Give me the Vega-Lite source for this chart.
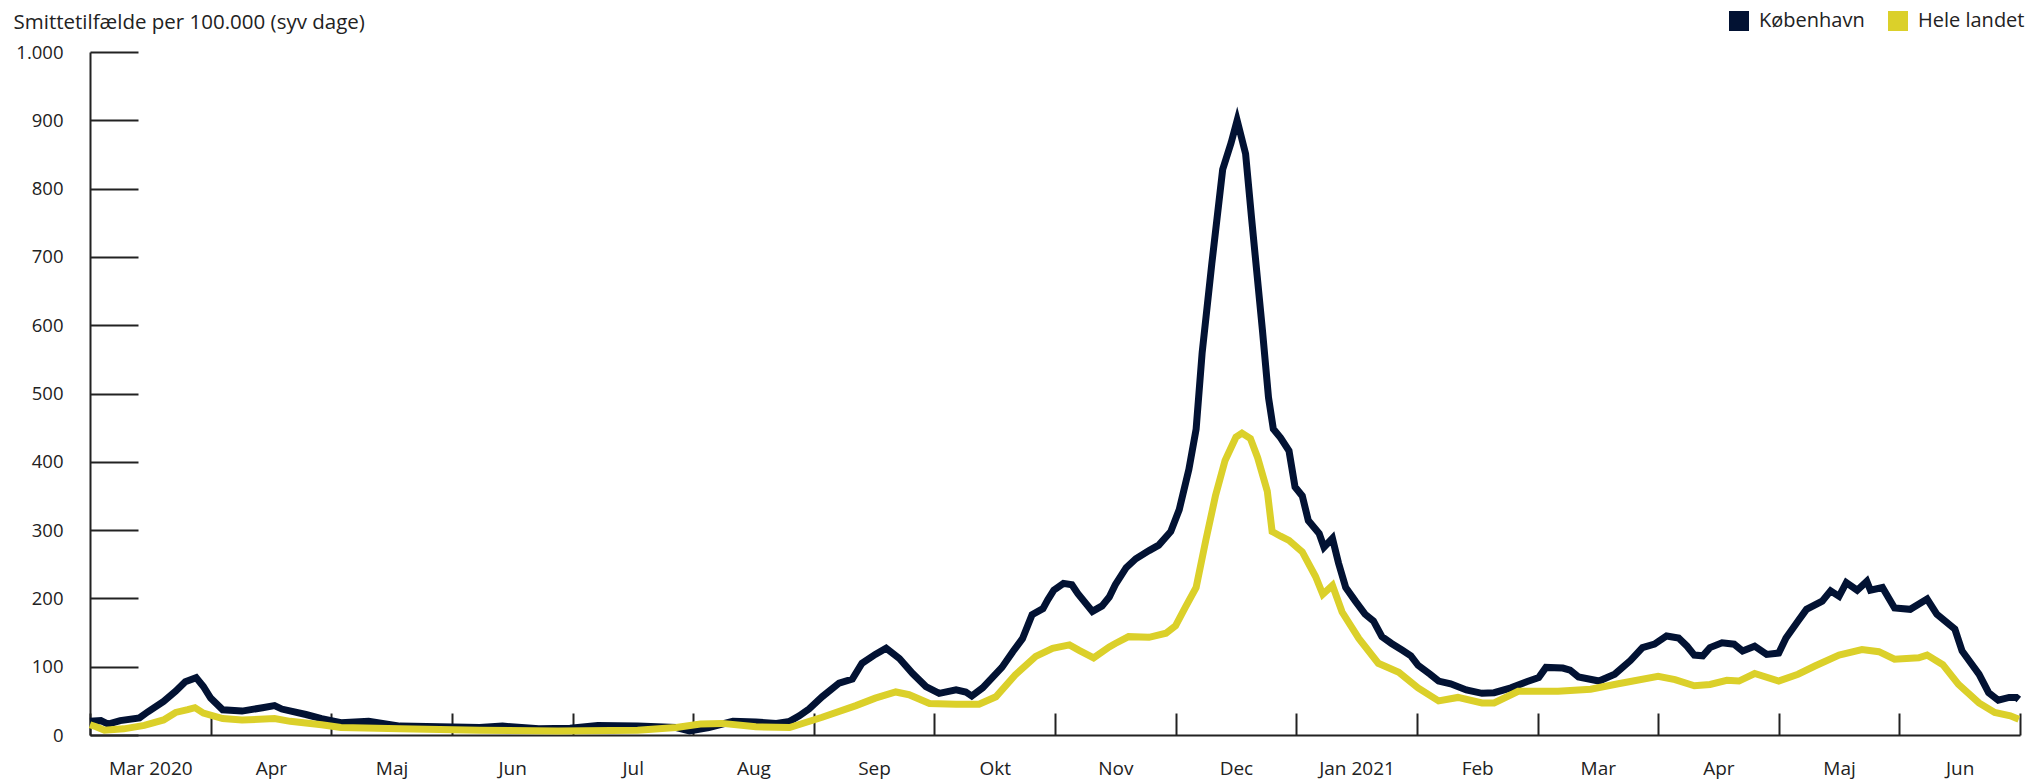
{
  "$schema": "https://vega.github.io/schema/vega-lite/v6.json",
  "autosize": {"type": "none"},
  "width": 1930,
  "height": 683,
  "padding": {"left": 90, "top": 52, "right": 7, "bottom": 47},
  "background": "white",
  "config": {
    "font": "Open Sans",
    "view": {"stroke": null}
  },
  "data": {
    "values": [
      {"s": "København", "m": 0.00, "v": 20}, {"s": "København", "m": 0.09, "v": 21}, {"s": "København", "m": 0.15, "v": 16}, {"s": "København", "m": 0.25, "v": 21},
      {"s": "København", "m": 0.41, "v": 25}, {"s": "København", "m": 0.48, "v": 34}, {"s": "København", "m": 0.61, "v": 49}, {"s": "København", "m": 0.71, "v": 64},
      {"s": "København", "m": 0.79, "v": 78}, {"s": "København", "m": 0.88, "v": 84}, {"s": "København", "m": 0.94, "v": 71}, {"s": "København", "m": 1.00, "v": 54},
      {"s": "København", "m": 1.10, "v": 37}, {"s": "København", "m": 1.26, "v": 35}, {"s": "København", "m": 1.43, "v": 40}, {"s": "København", "m": 1.53, "v": 43},
      {"s": "København", "m": 1.59, "v": 38}, {"s": "København", "m": 1.79, "v": 30}, {"s": "København", "m": 1.92, "v": 24}, {"s": "København", "m": 2.08, "v": 18},
      {"s": "København", "m": 2.31, "v": 20}, {"s": "København", "m": 2.57, "v": 13}, {"s": "København", "m": 2.90, "v": 12}, {"s": "København", "m": 3.23, "v": 11},
      {"s": "København", "m": 3.42, "v": 13}, {"s": "København", "m": 3.72, "v": 9}, {"s": "København", "m": 3.98, "v": 10}, {"s": "København", "m": 4.21, "v": 14},
      {"s": "København", "m": 4.54, "v": 13}, {"s": "København", "m": 4.86, "v": 11}, {"s": "København", "m": 4.97, "v": 6}, {"s": "København", "m": 5.13, "v": 11},
      {"s": "København", "m": 5.33, "v": 20}, {"s": "København", "m": 5.52, "v": 19}, {"s": "København", "m": 5.69, "v": 17}, {"s": "København", "m": 5.80, "v": 20},
      {"s": "København", "m": 5.88, "v": 28}, {"s": "København", "m": 5.96, "v": 38}, {"s": "København", "m": 6.07, "v": 56}, {"s": "København", "m": 6.21, "v": 76},
      {"s": "København", "m": 6.32, "v": 82}, {"s": "København", "m": 6.40, "v": 105}, {"s": "København", "m": 6.51, "v": 118}, {"s": "København", "m": 6.60, "v": 127},
      {"s": "København", "m": 6.71, "v": 112}, {"s": "København", "m": 6.82, "v": 90}, {"s": "København", "m": 6.93, "v": 71}, {"s": "København", "m": 7.04, "v": 61},
      {"s": "København", "m": 7.18, "v": 66}, {"s": "København", "m": 7.26, "v": 63}, {"s": "København", "m": 7.31, "v": 57}, {"s": "København", "m": 7.40, "v": 69},
      {"s": "København", "m": 7.56, "v": 99}, {"s": "København", "m": 7.65, "v": 122}, {"s": "København", "m": 7.73, "v": 141}, {"s": "København", "m": 7.81, "v": 176},
      {"s": "København", "m": 7.90, "v": 185}, {"s": "København", "m": 7.94, "v": 198}, {"s": "København", "m": 7.99, "v": 212}, {"s": "København", "m": 8.07, "v": 222},
      {"s": "København", "m": 8.14, "v": 220}, {"s": "København", "m": 8.19, "v": 207}, {"s": "København", "m": 8.31, "v": 181}, {"s": "København", "m": 8.39, "v": 189},
      {"s": "København", "m": 8.45, "v": 202}, {"s": "København", "m": 8.50, "v": 220}, {"s": "København", "m": 8.59, "v": 245}, {"s": "København", "m": 8.67, "v": 258},
      {"s": "København", "m": 8.78, "v": 270}, {"s": "København", "m": 8.86, "v": 278}, {"s": "København", "m": 8.96, "v": 298}, {"s": "København", "m": 9.03, "v": 330},
      {"s": "København", "m": 9.11, "v": 389}, {"s": "København", "m": 9.17, "v": 448}, {"s": "København", "m": 9.22, "v": 560}, {"s": "København", "m": 9.30, "v": 690},
      {"s": "København", "m": 9.39, "v": 828}, {"s": "København", "m": 9.46, "v": 867}, {"s": "København", "m": 9.51, "v": 900}, {"s": "København", "m": 9.58, "v": 851},
      {"s": "København", "m": 9.63, "v": 756}, {"s": "København", "m": 9.72, "v": 592}, {"s": "København", "m": 9.77, "v": 494}, {"s": "København", "m": 9.81, "v": 448},
      {"s": "København", "m": 9.87, "v": 435}, {"s": "København", "m": 9.94, "v": 416}, {"s": "København", "m": 9.99, "v": 363}, {"s": "København", "m": 10.05, "v": 350},
      {"s": "København", "m": 10.10, "v": 314}, {"s": "København", "m": 10.19, "v": 295}, {"s": "København", "m": 10.23, "v": 275}, {"s": "København", "m": 10.30, "v": 288},
      {"s": "København", "m": 10.35, "v": 252}, {"s": "København", "m": 10.41, "v": 216}, {"s": "København", "m": 10.49, "v": 196}, {"s": "København", "m": 10.57, "v": 177},
      {"s": "København", "m": 10.64, "v": 167}, {"s": "København", "m": 10.71, "v": 144}, {"s": "København", "m": 10.79, "v": 134}, {"s": "København", "m": 10.88, "v": 124},
      {"s": "København", "m": 10.95, "v": 116}, {"s": "København", "m": 11.01, "v": 102}, {"s": "København", "m": 11.11, "v": 89}, {"s": "København", "m": 11.18, "v": 79},
      {"s": "København", "m": 11.28, "v": 75}, {"s": "København", "m": 11.41, "v": 66}, {"s": "København", "m": 11.54, "v": 61}, {"s": "København", "m": 11.64, "v": 62},
      {"s": "København", "m": 11.78, "v": 69}, {"s": "København", "m": 11.91, "v": 78}, {"s": "København", "m": 12.01, "v": 84}, {"s": "København", "m": 12.07, "v": 99},
      {"s": "København", "m": 12.21, "v": 98}, {"s": "København", "m": 12.27, "v": 95}, {"s": "København", "m": 12.34, "v": 85}, {"s": "København", "m": 12.51, "v": 79},
      {"s": "København", "m": 12.64, "v": 89}, {"s": "København", "m": 12.77, "v": 109}, {"s": "København", "m": 12.87, "v": 128}, {"s": "København", "m": 12.97, "v": 133},
      {"s": "København", "m": 13.07, "v": 145}, {"s": "København", "m": 13.17, "v": 142}, {"s": "København", "m": 13.24, "v": 130}, {"s": "København", "m": 13.30, "v": 117},
      {"s": "København", "m": 13.37, "v": 116}, {"s": "København", "m": 13.43, "v": 128}, {"s": "København", "m": 13.53, "v": 135}, {"s": "København", "m": 13.63, "v": 133},
      {"s": "København", "m": 13.70, "v": 123}, {"s": "København", "m": 13.80, "v": 130}, {"s": "København", "m": 13.90, "v": 118}, {"s": "København", "m": 14.00, "v": 120},
      {"s": "København", "m": 14.06, "v": 142}, {"s": "København", "m": 14.16, "v": 167}, {"s": "København", "m": 14.23, "v": 184}, {"s": "København", "m": 14.36, "v": 196},
      {"s": "København", "m": 14.43, "v": 211}, {"s": "København", "m": 14.50, "v": 203}, {"s": "København", "m": 14.56, "v": 223}, {"s": "København", "m": 14.65, "v": 212},
      {"s": "København", "m": 14.73, "v": 225}, {"s": "København", "m": 14.76, "v": 212}, {"s": "København", "m": 14.86, "v": 216}, {"s": "København", "m": 14.96, "v": 186},
      {"s": "København", "m": 15.09, "v": 184}, {"s": "København", "m": 15.23, "v": 199}, {"s": "København", "m": 15.31, "v": 177}, {"s": "København", "m": 15.46, "v": 155},
      {"s": "København", "m": 15.52, "v": 123}, {"s": "København", "m": 15.66, "v": 89}, {"s": "København", "m": 15.74, "v": 62}, {"s": "København", "m": 15.82, "v": 51},
      {"s": "København", "m": 15.91, "v": 55}, {"s": "København", "m": 15.97, "v": 55}, {"s": "København", "m": 15.99, "v": 52},

      {"s": "Hele landet", "m": 0.00, "v": 15}, {"s": "Hele landet", "m": 0.05, "v": 12}, {"s": "Hele landet", "m": 0.12, "v": 7}, {"s": "Hele landet", "m": 0.28, "v": 9},
      {"s": "Hele landet", "m": 0.45, "v": 14}, {"s": "Hele landet", "m": 0.61, "v": 22}, {"s": "Hele landet", "m": 0.71, "v": 33}, {"s": "Hele landet", "m": 0.81, "v": 37},
      {"s": "Hele landet", "m": 0.87, "v": 40}, {"s": "Hele landet", "m": 0.94, "v": 32}, {"s": "Hele landet", "m": 1.10, "v": 24}, {"s": "Hele landet", "m": 1.26, "v": 22},
      {"s": "Hele landet", "m": 1.53, "v": 24}, {"s": "Hele landet", "m": 1.66, "v": 20}, {"s": "Hele landet", "m": 1.92, "v": 15}, {"s": "Hele landet", "m": 2.08, "v": 11},
      {"s": "Hele landet", "m": 2.57, "v": 9}, {"s": "Hele landet", "m": 3.23, "v": 7}, {"s": "Hele landet", "m": 3.88, "v": 6}, {"s": "Hele landet", "m": 4.54, "v": 7},
      {"s": "Hele landet", "m": 4.86, "v": 11}, {"s": "Hele landet", "m": 5.06, "v": 16}, {"s": "Hele landet", "m": 5.24, "v": 17}, {"s": "Hele landet", "m": 5.52, "v": 12},
      {"s": "Hele landet", "m": 5.80, "v": 11}, {"s": "Hele landet", "m": 6.07, "v": 26}, {"s": "Hele landet", "m": 6.35, "v": 43}, {"s": "Hele landet", "m": 6.51, "v": 54},
      {"s": "Hele landet", "m": 6.68, "v": 63}, {"s": "Hele landet", "m": 6.79, "v": 59}, {"s": "Hele landet", "m": 6.96, "v": 46}, {"s": "Hele landet", "m": 7.18, "v": 45},
      {"s": "Hele landet", "m": 7.37, "v": 45}, {"s": "Hele landet", "m": 7.51, "v": 56}, {"s": "Hele landet", "m": 7.67, "v": 88}, {"s": "Hele landet", "m": 7.84, "v": 115},
      {"s": "Hele landet", "m": 7.98, "v": 127}, {"s": "Hele landet", "m": 8.12, "v": 132}, {"s": "Hele landet", "m": 8.20, "v": 124}, {"s": "Hele landet", "m": 8.32, "v": 113},
      {"s": "Hele landet", "m": 8.45, "v": 129}, {"s": "Hele landet", "m": 8.50, "v": 134}, {"s": "Hele landet", "m": 8.61, "v": 144}, {"s": "Hele landet", "m": 8.78, "v": 143},
      {"s": "Hele landet", "m": 8.92, "v": 149}, {"s": "Hele landet", "m": 9.00, "v": 160}, {"s": "Hele landet", "m": 9.08, "v": 187}, {"s": "Hele landet", "m": 9.17, "v": 216},
      {"s": "Hele landet", "m": 9.25, "v": 285}, {"s": "Hele landet", "m": 9.33, "v": 350}, {"s": "Hele landet", "m": 9.41, "v": 402}, {"s": "Hele landet", "m": 9.50, "v": 436},
      {"s": "Hele landet", "m": 9.55, "v": 442}, {"s": "Hele landet", "m": 9.62, "v": 434}, {"s": "Hele landet", "m": 9.68, "v": 406}, {"s": "Hele landet", "m": 9.76, "v": 357},
      {"s": "Hele landet", "m": 9.80, "v": 298}, {"s": "Hele landet", "m": 9.87, "v": 291}, {"s": "Hele landet", "m": 9.94, "v": 285}, {"s": "Hele landet", "m": 10.05, "v": 268},
      {"s": "Hele landet", "m": 10.16, "v": 232}, {"s": "Hele landet", "m": 10.22, "v": 206}, {"s": "Hele landet", "m": 10.30, "v": 219}, {"s": "Hele landet", "m": 10.38, "v": 180},
      {"s": "Hele landet", "m": 10.52, "v": 141}, {"s": "Hele landet", "m": 10.68, "v": 105}, {"s": "Hele landet", "m": 10.85, "v": 92}, {"s": "Hele landet", "m": 11.01, "v": 69},
      {"s": "Hele landet", "m": 11.18, "v": 50}, {"s": "Hele landet", "m": 11.34, "v": 55}, {"s": "Hele landet", "m": 11.54, "v": 47}, {"s": "Hele landet", "m": 11.64, "v": 47},
      {"s": "Hele landet", "m": 11.84, "v": 64}, {"s": "Hele landet", "m": 12.17, "v": 64}, {"s": "Hele landet", "m": 12.44, "v": 67}, {"s": "Hele landet", "m": 12.67, "v": 75},
      {"s": "Hele landet", "m": 13.00, "v": 86}, {"s": "Hele landet", "m": 13.14, "v": 81}, {"s": "Hele landet", "m": 13.30, "v": 72}, {"s": "Hele landet", "m": 13.43, "v": 74},
      {"s": "Hele landet", "m": 13.57, "v": 80}, {"s": "Hele landet", "m": 13.67, "v": 79}, {"s": "Hele landet", "m": 13.80, "v": 90}, {"s": "Hele landet", "m": 14.00, "v": 79},
      {"s": "Hele landet", "m": 14.16, "v": 89}, {"s": "Hele landet", "m": 14.30, "v": 101}, {"s": "Hele landet", "m": 14.50, "v": 117}, {"s": "Hele landet", "m": 14.69, "v": 125},
      {"s": "Hele landet", "m": 14.83, "v": 122}, {"s": "Hele landet", "m": 14.96, "v": 111}, {"s": "Hele landet", "m": 15.16, "v": 113}, {"s": "Hele landet", "m": 15.23, "v": 117},
      {"s": "Hele landet", "m": 15.36, "v": 103}, {"s": "Hele landet", "m": 15.49, "v": 74}, {"s": "Hele landet", "m": 15.66, "v": 47}, {"s": "Hele landet", "m": 15.79, "v": 33},
      {"s": "Hele landet", "m": 15.92, "v": 28}, {"s": "Hele landet", "m": 15.99, "v": 23}
    ]
  },
  "mark": {"type": "line", "strokeWidth": 7, "strokeJoin": "miter", "clip": false},
  "encoding": {
    "x": {
      "field": "m",
      "type": "quantitative",
      "scale": {"domain": [0, 16], "nice": false, "zero": false},
      "axis": {
        "title": null,
        "values": [0, 1, 2, 3, 4, 5, 6, 7, 8, 9, 10, 11, 12, 13, 14, 15, 16],
        "labelExpr": "['Mar 2020','Apr','Maj','Jun','Jul','Aug','Sep','Okt','Nov','Dec','Jan 2021','Feb','Mar','Apr','Maj','Jun',''][datum.value]",
        "labelOffset": 60.3,
        "labelFontSize": 19,
        "labelColor": "#222222",
        "labelFont": "Open Sans",
        "labelBaseline": "top",
        "labelPadding": 46,
        "labelFlush": false,
        "labelOverlap": false,
        "tickSize": -22,
        "tickWidth": 2,
        "tickColor": "#222222",
        "domainWidth": 2,
        "domainColor": "#222222",
        "grid": false
      }
    },
    "y": {
      "field": "v",
      "type": "quantitative",
      "scale": {"domain": [0, 1000], "nice": false},
      "axis": {
        "title": "Smittetilfælde per 100.000 (syv dage)",
        "titleAngle": 0,
        "titleAlign": "left",
        "titleBaseline": "middle",
        "titleX": -77,
        "titleY": -30,
        "titleFontSize": 20.5,
        "titleFontWeight": "normal",
        "titleColor": "#222222",
        "titleFont": "Open Sans",
        "values": [0, 100, 200, 300, 400, 500, 600, 700, 800, 900, 1000],
        "labelExpr": "replace(datum.label, ',', '.')",
        "labelFontSize": 18.5,
        "labelColor": "#222222",
        "labelFont": "Open Sans",
        "labelPadding": 75,
        "tickSize": -48,
        "tickWidth": 2,
        "tickColor": "#222222",
        "domainWidth": 2,
        "domainColor": "#222222",
        "grid": false
      }
    },
    "color": {
      "field": "s",
      "type": "nominal",
      "sort": ["København", "Hele landet"],
      "scale": {"domain": ["København", "Hele landet"], "range": ["#021233", "#dbd02a"]},
      "legend": {
        "title": null,
        "orient": "none",
        "direction": "horizontal",
        "legendX": 1639,
        "legendY": -41,
        "symbolType": "square",
        "symbolSize": 400,
        "symbolStrokeWidth": 0,
        "symbolOpacity": 1,
        "labelFontSize": 20,
        "labelColor": "#222222",
        "labelFont": "Open Sans",
        "labelOffset": 10,
        "columnPadding": 23,
        "encode": {
          "symbols": {
            "update": {
              "fill": {"scale": "color", "field": "value"},
              "fillOpacity": {"value": 1},
              "strokeWidth": {"value": 0}
            }
          }
        }
      }
    }
  }
}
